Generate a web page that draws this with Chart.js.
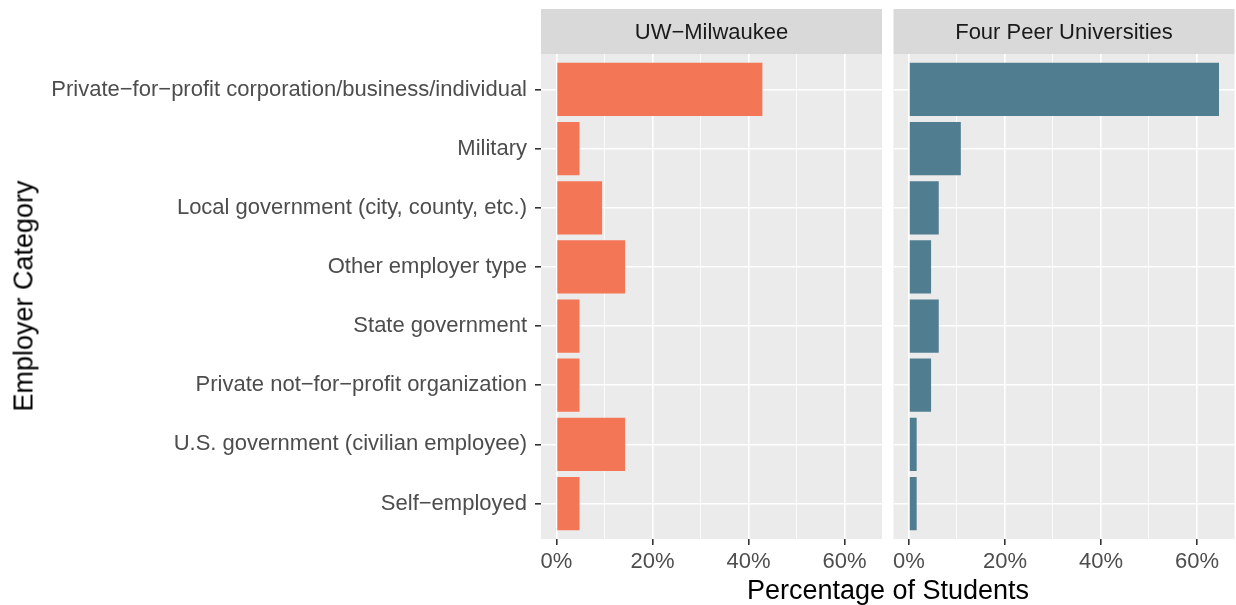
<!DOCTYPE html>
<html>
<head>
<meta charset="utf-8">
<script src="https://cdn.jsdelivr.net/npm/chart.js@4.4.1/dist/chart.umd.min.js"></script>
<style>
  html, body { margin: 0; padding: 0; background: #fff; }
  #wrap { position: relative; width: 1236px; height: 605px; overflow: hidden; font-family: "Liberation Sans", Arial, sans-serif; }
  canvas { position: absolute; top: 0; }
  #xtitle { position: absolute; left: 541px; width: 694px; top: 575px; line-height: 31px; text-align: center; font-size: 27px; color: #000; }
  #ytitle { position: absolute; left: 24px; top: 296px; transform: translate(-50%, -50%) rotate(-90deg); white-space: nowrap; line-height: 31px; font-size: 27px; color: #000; }
</style>
</head>
<body>
<div id="wrap">
  <canvas id="left" width="882" height="579" style="left:0"></canvas>
  <canvas id="right" width="348" height="579" style="left:888px"></canvas>
  <div id="xtitle">Percentage of Students</div>
  <div id="ytitle">Employer Category</div>
</div>
<script>
// categories top to bottom
const categories = [
    'Private\u2212for\u2212profit corporation/business/individual',
    'Military',
    'Local government (city, county, etc.)',
    'Other employer type',
    'State government',
    'Private not\u2212for\u2212profit organization',
    'U.S. government (civilian employee)',
    'Self\u2212employed',
];
const panels = ['UW\u2212Milwaukee', 'Four Peer Universities'];
// percent of students
const uwValues = [42.9, 4.8, 9.5, 14.3, 4.8, 4.8, 14.3, 4.8];
const peerValues = [64.6, 10.8, 6.2, 4.6, 6.2, 4.6, 1.6, 1.6];
const xTicks = [0, 10, 20, 30, 40, 50, 60];
const xMin = -3.23, xMax = 67.83;

const FONT = '"Liberation Sans", Arial, sans-serif';

const panelPlugin = {
    id: 'panel',
    beforeDraw(chart, args, opts) {
        const { ctx, chartArea: a } = chart;
        ctx.save();
        ctx.fillStyle = '#EBEBEB';
        ctx.fillRect(a.left, a.top, a.right - a.left, a.bottom - a.top);
        // facet strip
        ctx.fillStyle = '#D9D9D9';
        ctx.fillRect(a.left, 9, a.right - a.left, a.top - 9);
        ctx.fillStyle = '#1A1A1A';
        ctx.font = '22px ' + FONT;
        ctx.textAlign = 'center';
        ctx.textBaseline = 'middle';
        ctx.fillText(opts.label, (a.left + a.right) / 2, (9 + a.top) / 2 + 1);
        ctx.restore();
    },
};

function makeChart(canvas, values, color, label, showY) {
    return new Chart(canvas, {
        type: 'bar',
        data: {
            datasets: [{
                data: values.map((v, i) => ({ x: v, y: i })),
                backgroundColor: color,
                borderWidth: 0,
                categoryPercentage: 1,
                barPercentage: 0.9,
            }],
        },
        options: {
            indexAxis: 'y',
            responsive: false,
            animation: false,
            layout: { padding: { top: 54, right: showY ? 0 : 1.5, bottom: 0, left: 0 } },
            plugins: {
                legend: { display: false },
                tooltip: { enabled: false },
                panel: { label },
            },
            scales: {
                x: {
                    type: 'linear',
                    min: xMin,
                    max: xMax,
                    afterBuildTicks: (s) => { s.ticks = xTicks.map(v => ({ value: v })); },
                    afterFit: (s) => { s.height = 40; },
                    border: { display: false },
                    grid: {
                        color: '#FFFFFF',
                        lineWidth: (c) => (c.tick && c.tick.value % 20 === 0 ? 1.6 : 0.8),
                        tickColor: (c) => (c.tick && c.tick.value % 20 === 0 ? '#333333' : 'rgba(0,0,0,0)'),
                        tickLength: 6,
                    },
                    ticks: {
                        color: '#4D4D4D',
                        font: { family: FONT, size: 22 },
                        padding: 4,
                        maxRotation: 0,
                        autoSkip: false,
                        callback: (v) => (v % 20 === 0 ? v + '%' : ''),
                    },
                },
                y: {
                    type: 'linear',
                    reverse: true,
                    offset: false,
                    min: -0.6,
                    max: categories.length - 0.4,
                    afterBuildTicks: (s) => { s.ticks = categories.map((c, i) => ({ value: i })); },
                    afterFit: (s) => { s.width = showY ? 541 : 5.5; },
                    border: { display: false },
                    grid: {
                        offset: false,
                        color: '#FFFFFF',
                        lineWidth: 1.6,
                        tickColor: '#333333',
                        tickLength: 6,
                        drawTicks: showY,
                    },
                    ticks: {
                        display: showY,
                        color: '#4D4D4D',
                        font: { family: FONT, size: 22 },
                        padding: 8,
                        autoSkip: false,
                        callback: (v) => categories[v] || '',
                    },
                },
            },
        },
        plugins: [panelPlugin],
    });
}

makeChart(document.getElementById('left'), uwValues, '#F37756', panels[0], true);
makeChart(document.getElementById('right'), peerValues, '#517D91', panels[1], false);
</script>
</body>
</html>
